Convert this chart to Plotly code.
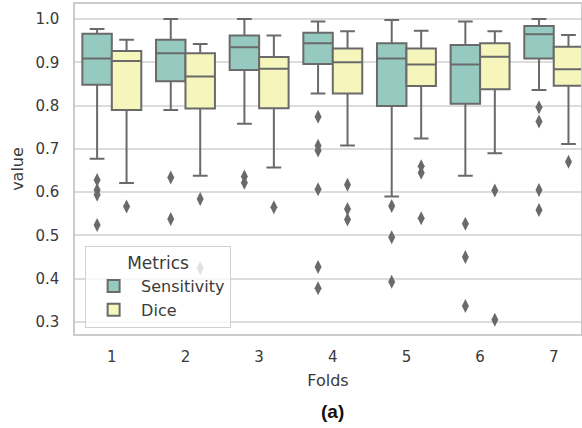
import plotly.graph_objects as go

folds = [1, 2, 3, 4, 5, 6, 7]

sens_q1 = [0.848, 0.856, 0.882, 0.896, 0.799, 0.804, 0.909]
sens_med = [0.909, 0.921, 0.935, 0.944, 0.909, 0.895, 0.965]
sens_q3 = [0.966, 0.952, 0.962, 0.968, 0.944, 0.940, 0.984]
sens_lo = [0.677, 0.790, 0.758, 0.828, 0.590, 0.638, 0.836]
sens_hi = [0.977, 1.000, 1.000, 0.994, 0.998, 0.994, 1.000]

dice_q1 = [0.790, 0.793, 0.794, 0.828, 0.845, 0.838, 0.846]
dice_med = [0.903, 0.867, 0.885, 0.900, 0.895, 0.913, 0.884]
dice_q3 = [0.926, 0.921, 0.912, 0.932, 0.932, 0.944, 0.936]
dice_lo = [0.621, 0.638, 0.657, 0.708, 0.724, 0.690, 0.711]
dice_hi = [0.952, 0.942, 0.962, 0.972, 0.973, 0.972, 0.963]

sens_outliers = {
    1: [0.628, 0.605, 0.594, 0.524],
    2: [0.634, 0.538],
    3: [0.636, 0.622],
    4: [0.774, 0.707, 0.696, 0.607, 0.427, 0.378],
    5: [0.568, 0.496, 0.393],
    6: [0.527, 0.450, 0.337],
    7: [0.796, 0.763, 0.605, 0.559],
}
dice_outliers = {
    1: [0.567],
    2: [0.584, 0.424],
    3: [0.565],
    4: [0.617, 0.561, 0.537],
    5: [0.660, 0.645, 0.540],
    6: [0.604, 0.305],
    7: [0.670],
}

tick_labels = ["1", "2", "3", "4", "5", "6", "7"]
y_ticks = [0.3, 0.4, 0.5, 0.6, 0.7, 0.8, 0.9, 1.0]

SENS_COLOR = "#96cac1"
DICE_COLOR = "#f5f5bc"
LINE = "#6a6a6a"
GRID = "#dcdcdc"
TEXT = "#3a3a3a"
FONT = "DejaVu Sans"
OFF = 0.2
W = 0.4

fig = go.Figure()

def add_group(name, q1, med, q3, lo, hi, outliers, color, sign):
    xs = [f + sign * OFF for f in folds]
    fig.add_trace(go.Box(
        name=name, x=xs, q1=q1, median=med, q3=q3,
        lowerfence=lo, upperfence=hi,
        width=W, whiskerwidth=0.5,
        fillcolor=color, line=dict(color=LINE, width=2),
        boxpoints=False, hoverinfo="skip",
    ))
    ox, oy = [], []
    for f in folds:
        for v in outliers.get(f, []):
            ox.append(f + sign * OFF)
            oy.append(v)
    fig.add_trace(go.Scatter(
        x=ox, y=oy, mode="markers", showlegend=False,
        marker=dict(symbol="diamond-tall", size=10, color=LINE,
                    line=dict(width=0)),
        hoverinfo="skip",
    ))

add_group("Sensitivity", sens_q1, sens_med, sens_q3, sens_lo, sens_hi,
          sens_outliers, SENS_COLOR, -1)
add_group("Dice", dice_q1, dice_med, dice_q3, dice_lo, dice_hi,
          dice_outliers, DICE_COLOR, 1)

fig.update_layout(
    width=582, height=428,
    margin=dict(l=75, r=1, t=4, b=94, autoexpand=False),
    paper_bgcolor="white", plot_bgcolor="white",
    boxmode="overlay",
    font=dict(family=FONT, size=15, color=TEXT),
    showlegend=True,
    legend=dict(
        title=dict(text="Metrics", side="top center", font=dict(size=17, color=TEXT)),
        x=0.02, y=0.267, xanchor="left", yanchor="top",
        bgcolor="rgba(255,255,255,0.8)", bordercolor="#d0d0d0", borderwidth=1,
        font=dict(size=16, color=TEXT), itemwidth=45,
        tracegroupgap=2,
    ),
    xaxis=dict(
        range=[0.5, 7.37], tickvals=folds, ticktext=tick_labels,
        showgrid=False, zeroline=False, automargin=False,
        showline=True, linecolor="#cccccc", linewidth=1.5, mirror=True,
        ticks="outside", ticklen=8, tickcolor="rgba(0,0,0,0)",
        title=dict(text="Folds", font=dict(size=16, color=TEXT), standoff=10),
    ),
    yaxis=dict(
        range=[0.2723, 1.0347], tickvals=y_ticks,
        ticktext=[f"{v:.1f}" for v in y_ticks],
        showgrid=True, gridcolor=GRID, gridwidth=1.5, zeroline=False,
        showline=True, linecolor="#cccccc", linewidth=1.5, mirror=True,
        ticks="outside", ticklen=11, tickcolor="rgba(0,0,0,0)", automargin=False,
        title=dict(text="value", font=dict(size=16, color=TEXT), standoff=8),
    ),
    annotations=[dict(
        text="<b>(a)</b>", xref="paper", yref="paper",
        x=0.508, y=-0.236, xanchor="center", yanchor="middle",
        showarrow=False, font=dict(family="Liberation Sans", size=19, color="#111111"),
    )],
)

fig.write_html("out.html", config={"displayModeBar": False},
               post_script="document.body.style.margin='0';")
